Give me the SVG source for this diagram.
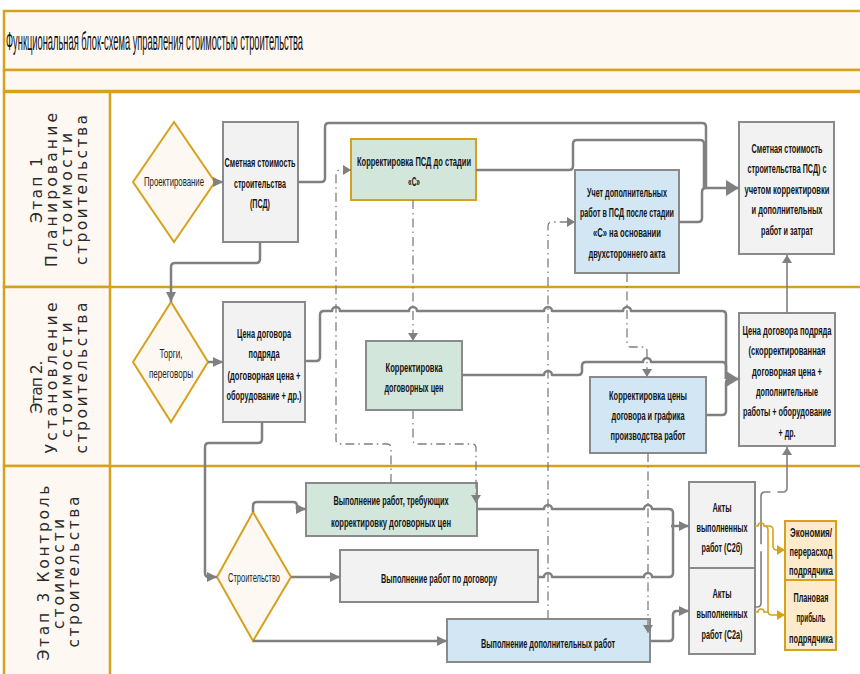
<svg xmlns="http://www.w3.org/2000/svg" width="860" height="674" viewBox="0 0 860 674">
<style>
.band{fill:#FEF8F3;stroke:#D6A21E;stroke-width:2.5}
.sep{stroke:#D6A21E;stroke-width:2.5;fill:none}
.bx{stroke:#8A8A8A;stroke-width:2}
.g{fill:#F2F2F2}
.gr{fill:#D3E6DC}
.bl{fill:#D3E6F3}
.pe{fill:#FDEBCB;stroke:#D6A21E;stroke-width:2}
.dm{fill:#FEF8F3;stroke:#D6A21E;stroke-width:2}
.t{font-family:"Liberation Sans Narrow","Liberation Sans",Arial,sans-serif;font-size:13.5px;font-weight:bold;fill:#141414;text-anchor:middle}
.tn{font-family:"Liberation Sans Narrow","Liberation Sans",Arial,sans-serif;font-size:13px;fill:#222;text-anchor:middle}
.h{font-family:"DejaVu Sans",Verdana,sans-serif;font-size:15.5px;fill:#2a2a2a;text-anchor:middle}
.ti{font-family:"Liberation Sans Narrow","Liberation Sans",Arial,sans-serif;font-size:25px;fill:#111}
.c{fill:none;stroke:#808080;stroke-width:2.5;stroke-linejoin:round}
.cd{fill:none;stroke:#808080;stroke-width:1.6;stroke-dasharray:60 7}
.dd{fill:none;stroke:#7F7F7F;stroke-width:1.3;stroke-dasharray:9 4 1.5 4}
.gd{fill:none;stroke:#D6A21E;stroke-width:1.6}
</style>
<defs>
<marker id="a" markerWidth="10" markerHeight="10" refX="10" refY="5" orient="auto" markerUnits="userSpaceOnUse"><path d="M0,0 L10,5 L0,10 z" fill="#808080"/></marker>
<marker id="ab" markerWidth="13" markerHeight="16" refX="13" refY="8" orient="auto" markerUnits="userSpaceOnUse"><path d="M0,0 L13,8 L0,16 z" fill="#808080"/></marker>
<marker id="as" markerWidth="8" markerHeight="10" refX="8" refY="5" orient="auto" markerUnits="userSpaceOnUse"><path d="M0,0 L8,5 L0,10 z" fill="#808080"/></marker>
<marker id="ag" markerWidth="8" markerHeight="10" refX="8" refY="5" orient="auto" markerUnits="userSpaceOnUse"><path d="M0,0 L8,5 L0,10 z" fill="#D6A21E"/></marker>
</defs>
<rect x="0" y="0" width="860" height="674" fill="#FFFFFF"/>
<g id="frame">
<rect class="band" x="4" y="11" width="870" height="59"/>
<rect class="band" x="4" y="70" width="870" height="21"/>
<rect class="band" x="4" y="92" width="106" height="195"/>
<rect class="band" x="4" y="287" width="106" height="179"/>
<rect class="band" x="4" y="466" width="106" height="220"/>
<path class="sep" d="M110,92 H862 M110,287 H862 M110,466 H862"/>
<text class="ti" x="6" y="50" textLength="297" lengthAdjust="spacingAndGlyphs">Функциональная блок-схема управления стоимостью строительства</text>
</g>
<g id="lane1-header">
<text class="h" transform="translate(42,190) rotate(-90)" textLength="66" lengthAdjust="spacing">Этап 1</text>
<text class="h" transform="translate(57,190) rotate(-90)" textLength="154" lengthAdjust="spacing">Планирование</text>
<text class="h" transform="translate(72,190) rotate(-90)" textLength="114" lengthAdjust="spacing">стоимости</text>
<text class="h" transform="translate(87,190) rotate(-90)" textLength="150" lengthAdjust="spacing">строительства</text>
</g>
<g id="lane2-header">
<text class="h" transform="translate(42,387) rotate(-90)" textLength="53" lengthAdjust="spacing">Этап 2.</text>
<text class="h" transform="translate(57,378) rotate(-90)" textLength="151" lengthAdjust="spacing">Установление</text>
<text class="h" transform="translate(72,380) rotate(-90)" textLength="115" lengthAdjust="spacing">стоимости</text>
<text class="h" transform="translate(87,378) rotate(-90)" textLength="151" lengthAdjust="spacing">строительства</text>
</g>
<g id="lane3-header">
<text class="h" transform="translate(49,573) rotate(-90)" textLength="175" lengthAdjust="spacing">Этап 3 Контроль</text>
<text class="h" transform="translate(64,574) rotate(-90)" textLength="110" lengthAdjust="spacing">стоимости</text>
<text class="h" transform="translate(79,572) rotate(-90)" textLength="151" lengthAdjust="spacing">строительства</text>
</g>

<g id="n-proekt"><polygon class="dm" points="133,182 174,122 215,182 174,242"/><text class="tn" x="174" y="186" textLength="60" lengthAdjust="spacingAndGlyphs">Проектирование</text></g>
<g id="n-smeta"><rect class="bx g" x="223" y="122" width="75" height="120"/>
<text class="t" x="260" y="167" textLength="71" lengthAdjust="spacingAndGlyphs">Сметная стоимость</text>
<text class="t" x="260" y="188" textLength="52" lengthAdjust="spacingAndGlyphs">строительства</text>
<text class="t" x="260" y="208" textLength="20" lengthAdjust="spacingAndGlyphs">(ПСД)</text></g>
<g id="n-korpsd"><rect class="gr" x="351" y="139" width="125" height="61" stroke="#D6A21E" stroke-width="2"/>
<text class="t" x="414" y="166" textLength="114" lengthAdjust="spacingAndGlyphs">Корректировка ПСД до стадии</text>
<text class="t" x="414" y="186" textLength="12" lengthAdjust="spacingAndGlyphs">«С»</text></g>
<g id="n-uchet"><rect class="bx bl" x="575" y="170" width="104" height="103"/>
<text class="t" x="627" y="197" textLength="80" lengthAdjust="spacingAndGlyphs">Учет дополнительных</text>
<text class="t" x="627" y="217" textLength="94" lengthAdjust="spacingAndGlyphs">работ в ПСД после стадии</text>
<text class="t" x="627" y="237" textLength="68" lengthAdjust="spacingAndGlyphs">«С» на основании</text>
<text class="t" x="627" y="258" textLength="77" lengthAdjust="spacingAndGlyphs">двухстороннего акта</text></g>
<g id="n-final1"><rect class="bx g" x="739" y="122" width="95" height="132"/>
<text class="t" x="787" y="153" textLength="71" lengthAdjust="spacingAndGlyphs">Сметная стоимость</text>
<text class="t" x="787" y="173" textLength="79" lengthAdjust="spacingAndGlyphs">строительства ПСД) с</text>
<text class="t" x="787" y="194" textLength="85" lengthAdjust="spacingAndGlyphs">учетом корректировки</text>
<text class="t" x="787" y="214" textLength="71" lengthAdjust="spacingAndGlyphs">и дополнительных</text>
<text class="t" x="787" y="235" textLength="52" lengthAdjust="spacingAndGlyphs">работ и затрат</text></g>

<g id="n-torgi"><polygon class="dm" points="133,362 171,302 208,362 171,422"/>
<text class="tn" x="171" y="358" textLength="23" lengthAdjust="spacingAndGlyphs">Торги,</text>
<text class="tn" x="171" y="378" textLength="44" lengthAdjust="spacingAndGlyphs">переговоры</text></g>
<g id="n-cena"><rect class="bx g" x="223" y="302" width="82" height="120"/>
<text class="t" x="264" y="338" textLength="54" lengthAdjust="spacingAndGlyphs">Цена договора</text>
<text class="t" x="264" y="358" textLength="31" lengthAdjust="spacingAndGlyphs">подряда</text>
<text class="t" x="264" y="380" textLength="73" lengthAdjust="spacingAndGlyphs">(договорная  цена +</text>
<text class="t" x="264" y="400" textLength="75" lengthAdjust="spacingAndGlyphs">оборудование + др.)</text></g>
<g id="n-kordog"><rect class="bx gr" x="366" y="341" width="96" height="69"/>
<text class="t" x="414" y="372" textLength="57" lengthAdjust="spacingAndGlyphs">Корректировка</text>
<text class="t" x="414" y="392" textLength="59" lengthAdjust="spacingAndGlyphs">договорных цен</text></g>
<g id="n-korceny"><rect class="bx bl" x="590" y="377" width="116" height="76"/>
<text class="t" x="648" y="400" textLength="78" lengthAdjust="spacingAndGlyphs">Корректировка цены</text>
<text class="t" x="648" y="420" textLength="73" lengthAdjust="spacingAndGlyphs">договора и графика</text>
<text class="t" x="648" y="440" textLength="75" lengthAdjust="spacingAndGlyphs">производства работ</text></g>
<g id="n-final2"><rect class="bx g" x="739" y="313" width="96" height="133"/>
<text class="t" x="787" y="335" textLength="89" lengthAdjust="spacingAndGlyphs">Цена договора подряда</text>
<text class="t" x="787" y="355" textLength="77" lengthAdjust="spacingAndGlyphs">(скорректированная</text>
<text class="t" x="787" y="376" textLength="70" lengthAdjust="spacingAndGlyphs">договорная цена +</text>
<text class="t" x="787" y="396" textLength="62" lengthAdjust="spacingAndGlyphs">дополнительные</text>
<text class="t" x="787" y="416" textLength="88" lengthAdjust="spacingAndGlyphs">работы + оборудование</text>
<text class="t" x="787" y="437" textLength="17" lengthAdjust="spacingAndGlyphs">+ др.</text></g>

<g id="n-stroit"><polygon class="dm" points="217,577 253,512 291,577 253,641"/>
<text class="tn" x="254" y="582" textLength="52" lengthAdjust="spacingAndGlyphs">Строительство</text></g>
<g id="n-vyptreb"><rect class="bx gr" x="306" y="483" width="171" height="53"/>
<text class="t" x="391" y="505" textLength="115" lengthAdjust="spacingAndGlyphs">Выполнение работ, требующих</text>
<text class="t" x="391" y="527" textLength="120" lengthAdjust="spacingAndGlyphs">корректировку  договорных цен</text></g>
<g id="n-vypdog"><rect class="bx g" x="340" y="550" width="198" height="52"/>
<text class="t" x="439" y="583" textLength="116" lengthAdjust="spacingAndGlyphs">Выполнение работ по договору</text></g>
<g id="n-vypdop"><rect class="bx bl" x="447" y="619" width="203" height="43"/>
<text class="t" x="548" y="648" textLength="134" lengthAdjust="spacingAndGlyphs">Выполнение дополнительных работ</text></g>
<g id="n-c2b"><rect class="bx g" x="689" y="482" width="66" height="86"/>
<text class="t" x="722" y="512" textLength="19" lengthAdjust="spacingAndGlyphs">Акты</text>
<text class="t" x="722" y="532" textLength="51" lengthAdjust="spacingAndGlyphs">выполненных</text>
<text class="t" x="722" y="552" textLength="41" lengthAdjust="spacingAndGlyphs">работ (С2б)</text></g>
<g id="n-c2a"><rect class="bx g" x="689" y="568" width="66" height="86"/>
<text class="t" x="722" y="598" textLength="19" lengthAdjust="spacingAndGlyphs">Акты</text>
<text class="t" x="722" y="618" textLength="51" lengthAdjust="spacingAndGlyphs">выполненных</text>
<text class="t" x="722" y="639" textLength="41" lengthAdjust="spacingAndGlyphs">работ (С2а)</text></g>
<g id="n-econ"><rect class="pe" x="785" y="521" width="51" height="59"/>
<text class="t" x="811" y="537" textLength="42" lengthAdjust="spacingAndGlyphs">Экономия/</text>
<text class="t" x="811" y="556" textLength="43" lengthAdjust="spacingAndGlyphs">перерасход</text>
<text class="t" x="811" y="575" textLength="44" lengthAdjust="spacingAndGlyphs">подрядчика</text></g>
<g id="n-plan"><rect class="pe" x="785" y="580" width="51" height="70"/>
<text class="t" x="811" y="602" textLength="35" lengthAdjust="spacingAndGlyphs">Плановая</text>
<text class="t" x="811" y="622" textLength="29" lengthAdjust="spacingAndGlyphs">прибыль</text>
<text class="t" x="811" y="643" textLength="44" lengthAdjust="spacingAndGlyphs">подрядчика</text></g>

<g id="connectors">
<path class="c" d="M213,182 H223" marker-end="url(#a)"/>
<path class="c" d="M298,182 H321 Q325,182 325,178 V127 Q325,123 329,123 H702 Q706,123 706,127 V188"/>
<path class="c" d="M476,170 H569 Q573,170 573,166 V144 Q573,140 577,140 H700 Q704,140 704,144 V188"/>
<path class="c" d="M679,222 H698 Q702,222 702,218 V192 Q702,188 706,188 H739" marker-end="url(#ab)"/>
<path class="c" d="M260,242 V259 Q260,263 256,263 H175 Q171,263 171,267 V302" marker-end="url(#a)"/>
<path class="c" d="M208,362 H223" marker-end="url(#a)"/>
<path class="c" d="M305,361 H316 Q320,361 320,357 V315 Q320,311 324,311 H332 a4,4 0 0 1 8,0 H409 a4,4 0 0 1 8,0 H544 a4,4 0 0 1 8,0 H623 a4,4 0 0 1 8,0 H722 Q726,311 726,315 V379"/>
<path class="c" d="M462,375 H544 a4,4 0 0 1 8,0 H578 Q582,375 582,371 V366 Q582,362 586,362 H643 a4,4 0 0 1 8,0 H722 Q726,362 726,366 V379"/>
<path class="c" d="M706,415 H722 Q726,415 726,411 V383 Q726,379 730,379 H739" marker-end="url(#ab)"/>
<path class="c" d="M262,422 V439 Q262,443 258,443 H209 Q205,443 205,447 V573 Q205,577 209,577 H217" marker-end="url(#a)"/>
<path class="c" d="M253,512 V506 Q253,502 257,502 H293 Q297,502 297,506 V509 H306" marker-end="url(#a)"/>
<path class="c" d="M291,577 H340" marker-end="url(#a)"/>
<path class="c" d="M253,641 H447" marker-end="url(#a)"/>
<path class="c" d="M477,509 H544 a4,4 0 0 1 8,0 H644 a4,4 0 0 1 8,0 H669 Q673,509 673,513 V526"/>
<path class="c" d="M538,577 H544 a4,4 0 0 1 8,0 H644 a4,4 0 0 1 8,0 H669 Q673,577 673,573 V526"/>
<path class="c" d="M671,526 H689" marker-end="url(#a)"/>
<path class="c" d="M650,641 H669 Q673,641 673,637 V615 Q673,611 677,611 H689" marker-end="url(#a)"/>
<path class="cd" d="M755,607 H757 Q761,607 761,603 V496 Q761,492 765,492 H783 Q787,492 787,488 V447" marker-end="url(#as)"/>
<path class="cd" d="M787,313 V255" marker-end="url(#as)"/>
<path class="dd" d="M413,200 V341" marker-end="url(#as)"/>
<path class="dd" d="M391,483 V448 Q391,444 387,444 H340 Q336,444 336,440 V174 Q336,170 340,170 H351" marker-end="url(#as)"/>
<path class="dd" d="M413,410 V440 Q413,444 417,444 H472 Q476,444 476,448 V503" marker-end="url(#as)"/>
<path class="dd" d="M548,619 V226 Q548,222 552,222 H575" marker-end="url(#as)"/>
<path class="dd" d="M627,273 V343 Q627,347 631,347 H643 Q647,347 647,351 V377" marker-end="url(#as)"/>
<path class="dd" d="M648,453 V633" marker-end="url(#as)"/>
<path class="gd" d="M755,526 H758 a3,3 0 0 1 6,0 H769 Q773,526 773,530 V546 Q773,550 777,550 H785" marker-end="url(#ag)"/>
<path class="gd" d="M764,526 Q768,526 768,530 V611 Q768,615 772,615 H785" marker-end="url(#ag)"/>
<path class="gd" d="M755,612 H758 a3,3 0 0 1 6,0 H768"/>
</g>
</svg>
